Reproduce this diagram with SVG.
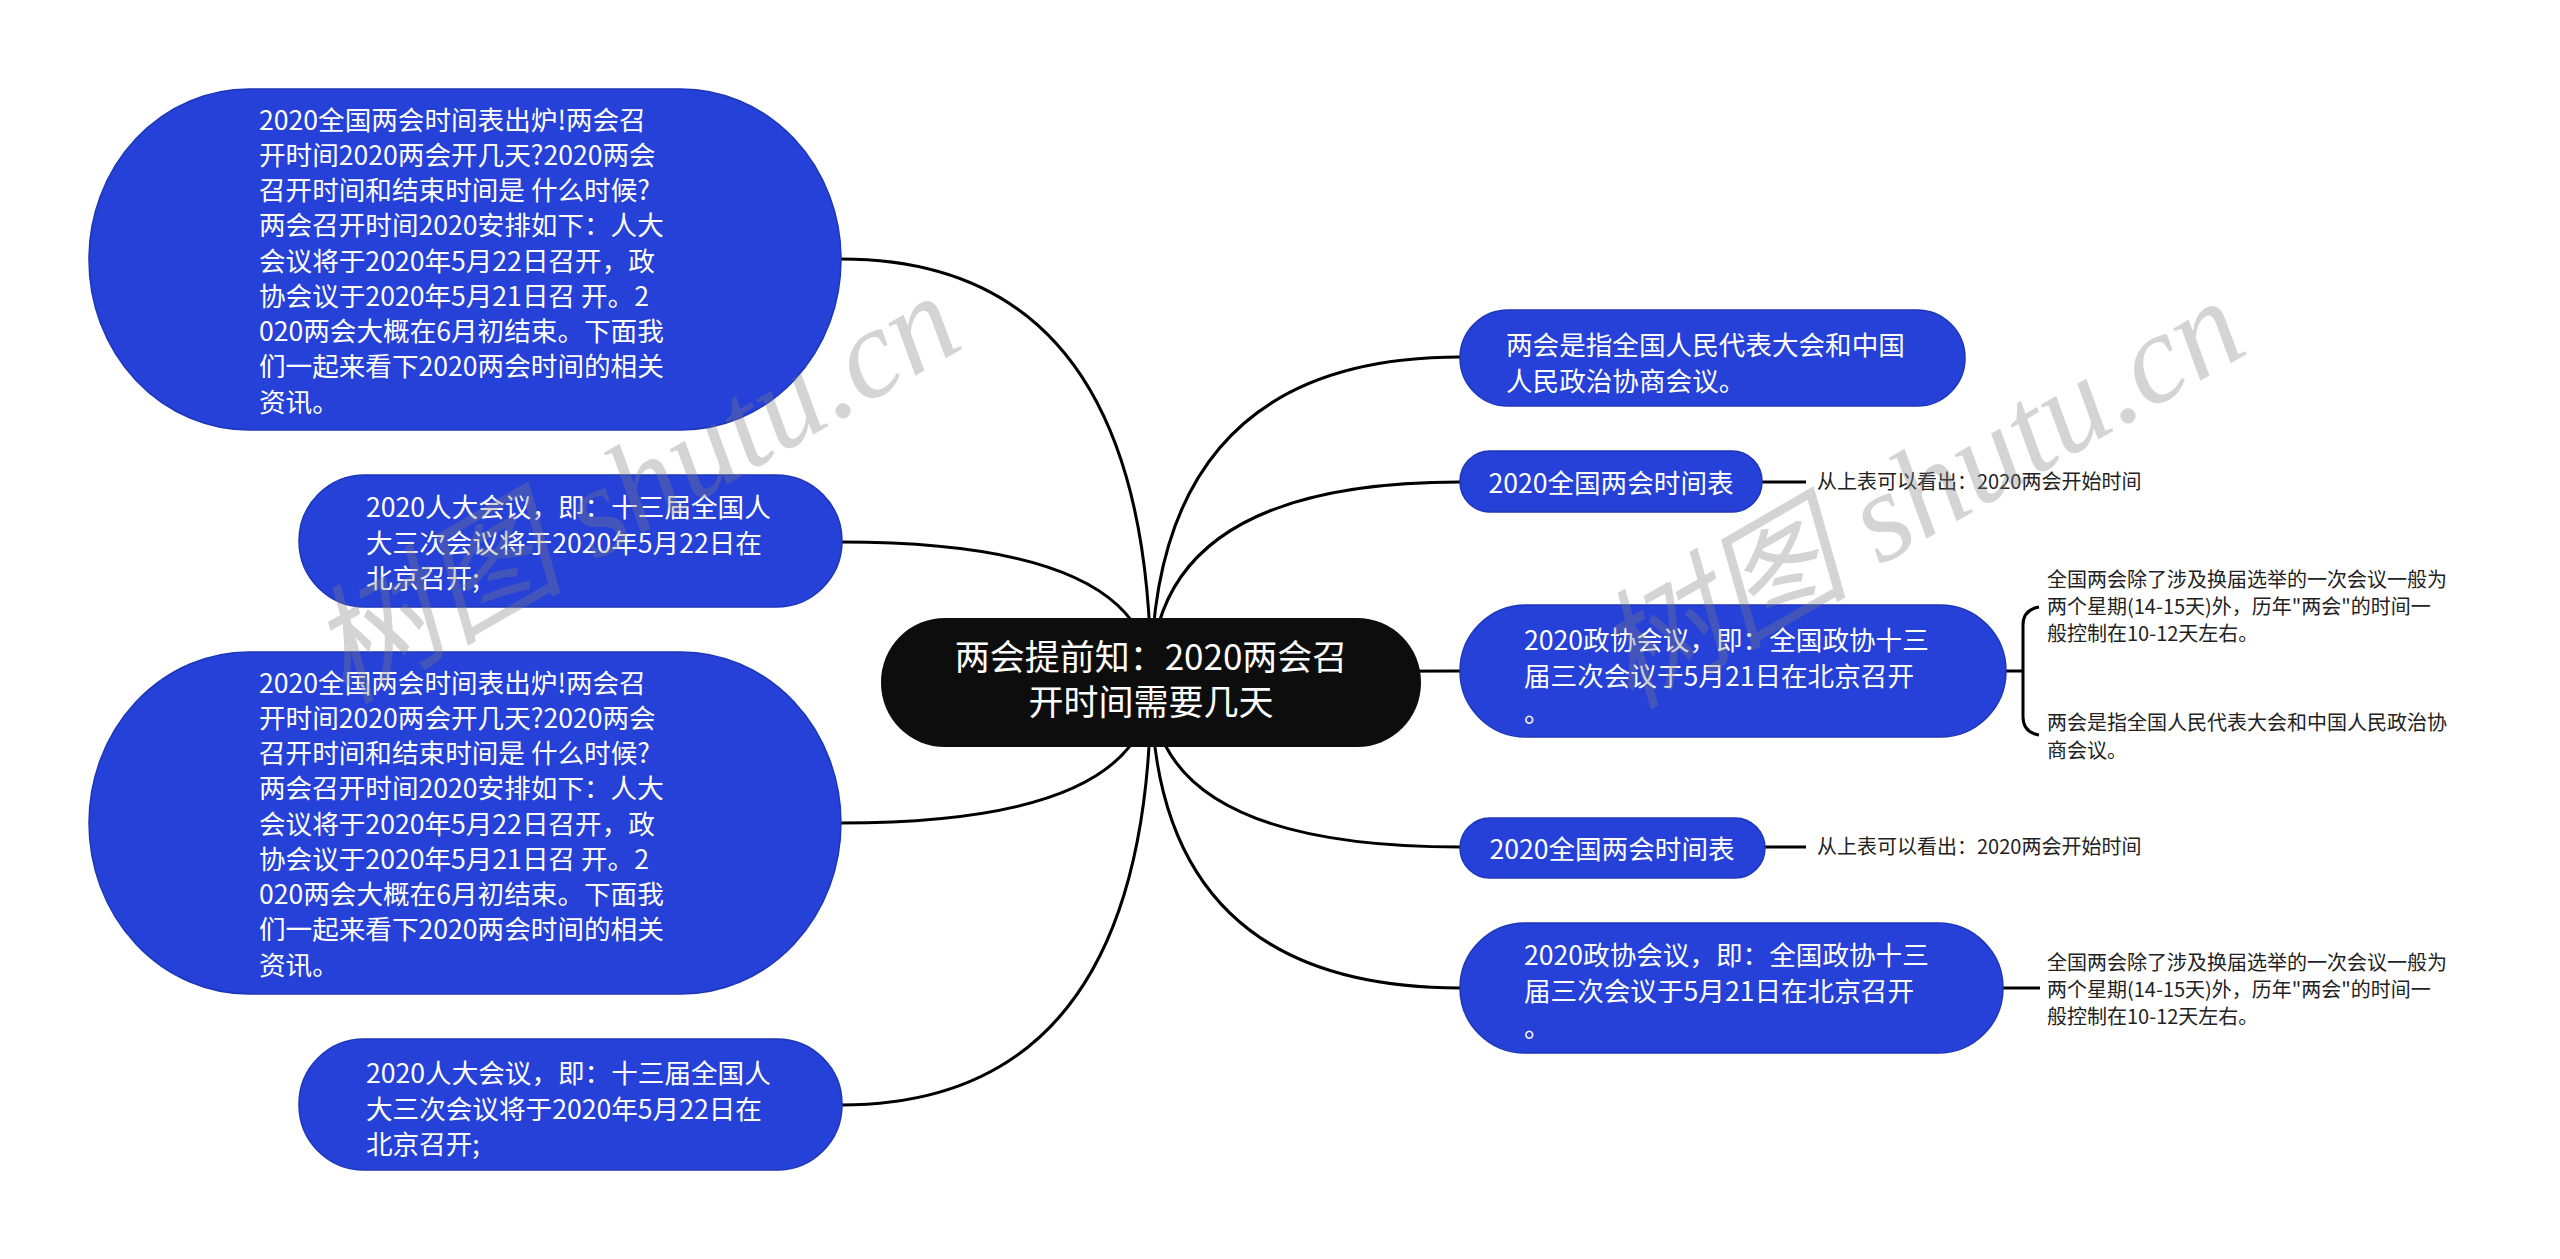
<svg xmlns="http://www.w3.org/2000/svg" width="2560" height="1259" viewBox="0 0 2560 1259">
<style>
.blue{fill:#2541d8;stroke:#1c36b8;stroke-width:1.5}
.root{fill:#0d0d0d}
.t{font-family:"Noto Sans CJK SC","Liberation Sans",sans-serif;font-size:26.6px;fill:#ffffff}
.tc{font-family:"Noto Sans CJK SC","Liberation Sans",sans-serif;font-size:35px;fill:#ffffff;text-anchor:middle}
.s{font-family:"Noto Sans CJK SC","Liberation Sans",sans-serif;font-size:20px;fill:#222222}
.c{fill:none;stroke:#000000;stroke-width:3}
.wm{font-family:"Liberation Serif","Noto Sans CJK SC",serif;font-style:italic;font-size:128px;fill:#808080;opacity:0.33}
</style>
<rect width="2560" height="1259" fill="#ffffff"/>
<g id="connectors">
<path class="c" d="M1151 682 Q1151 259 841 259"/>
<path class="c" d="M1151 682 Q1151 542 841 542"/>
<path class="c" d="M1151 682 Q1151 823 841 823"/>
<path class="c" d="M1151 682 Q1151 1105 841 1105"/>
<path class="c" d="M1151 682 Q1151 357 1460 357"/>
<path class="c" d="M1151 682 Q1151 482 1460 482"/>
<path class="c" d="M1151 682 Q1151 671 1460 671"/>
<path class="c" d="M1151 682 Q1151 847 1460 847"/>
<path class="c" d="M1151 682 Q1151 988 1460 988"/>
<path class="c" d="M1762 482 L1806 482"/>
<path class="c" d="M1765 847 L1806 847"/>
<path class="c" d="M2006 671 L2023 671"/>
<path class="c" d="M2039 607 Q2023 610 2023 625 L2023 717 Q2023 732 2039 735"/>
<path class="c" d="M2003 988 L2040 988"/>
</g>
<g id="n-left1">
<rect class="blue" x="89" y="89" width="752" height="341" rx="160" ry="170"/>
<text class="t" x="259" y="129.6"><tspan x="259">2020全国两会时间表出炉!两会召</tspan><tspan x="259" dy="35.25">开时间2020两会开几天?2020两会</tspan><tspan x="259" dy="35.25">召开时间和结束时间是 什么时候?</tspan><tspan x="259" dy="35.25">两会召开时间2020安排如下：人大</tspan><tspan x="259" dy="35.25">会议将于2020年5月22日召开，政</tspan><tspan x="259" dy="35.25">协会议于2020年5月21日召 开。2</tspan><tspan x="259" dy="35.25">020两会大概在6月初结束。下面我</tspan><tspan x="259" dy="35.25">们一起来看下2020两会时间的相关</tspan><tspan x="259" dy="35.25">资讯。</tspan></text>
</g>
<g id="n-left2">
<rect class="blue" x="299" y="475" width="543" height="132" rx="66"/>
<text class="t" x="366" y="517"><tspan x="366">2020人大会议，即：十三届全国人</tspan><tspan x="366" dy="35.5">大三次会议将于2020年5月22日在</tspan><tspan x="366" dy="35.5">北京召开;</tspan></text>
</g>
<g id="n-left3">
<rect class="blue" x="89" y="652" width="752" height="342" rx="160" ry="171"/>
<text class="t" x="259" y="692.6"><tspan x="259">2020全国两会时间表出炉!两会召</tspan><tspan x="259" dy="35.25">开时间2020两会开几天?2020两会</tspan><tspan x="259" dy="35.25">召开时间和结束时间是 什么时候?</tspan><tspan x="259" dy="35.25">两会召开时间2020安排如下：人大</tspan><tspan x="259" dy="35.25">会议将于2020年5月22日召开，政</tspan><tspan x="259" dy="35.25">协会议于2020年5月21日召 开。2</tspan><tspan x="259" dy="35.25">020两会大概在6月初结束。下面我</tspan><tspan x="259" dy="35.25">们一起来看下2020两会时间的相关</tspan><tspan x="259" dy="35.25">资讯。</tspan></text>
</g>
<g id="n-left4">
<rect class="blue" x="299" y="1039" width="543" height="131" rx="65"/>
<text class="t" x="366" y="1083"><tspan x="366">2020人大会议，即：十三届全国人</tspan><tspan x="366" dy="35.5">大三次会议将于2020年5月22日在</tspan><tspan x="366" dy="35.5">北京召开;</tspan></text>
</g>
<g id="n-root">
<rect class="root" x="881" y="618" width="540" height="129" rx="64"/>
<text class="tc" x="1151" y="670"><tspan x="1151">两会提前知：2020两会召</tspan><tspan x="1151" dy="45">开时间需要几天</tspan></text>
</g>
<g id="n-right1">
<rect class="blue" x="1460" y="310" width="505" height="96" rx="48"/>
<text class="t" x="1506" y="355"><tspan x="1506">两会是指全国人民代表大会和中国</tspan><tspan x="1506" dy="35.5">人民政治协商会议。</tspan></text>
</g>
<g id="n-right2">
<rect class="blue" x="1460" y="451" width="302" height="61" rx="30"/>
<text class="t" x="1611" y="493" text-anchor="middle">2020全国两会时间表</text>
</g>
<g id="n-right2-leaf">
<text class="s" x="1817" y="489">从上表可以看出：2020两会开始时间</text>
</g>
<g id="n-right3">
<rect class="blue" x="1460" y="605" width="546" height="132" rx="66"/>
<text class="t" x="1524" y="650"><tspan x="1524">2020政协会议，即：全国政协十三</tspan><tspan x="1524" dy="36">届三次会议于5月21日在北京召开</tspan><tspan x="1524" dy="36">。</tspan></text>
</g>
<g id="n-right3-leaf1">
<text class="s" x="2047" y="587"><tspan x="2047">全国两会除了涉及换届选举的一次会议一般为</tspan><tspan x="2047" dy="27">两个星期(14-15天)外，历年"两会"的时间一</tspan><tspan x="2047" dy="27">般控制在10-12天左右。</tspan></text>
</g>
<g id="n-right3-leaf2">
<text class="s" x="2047" y="730"><tspan x="2047">两会是指全国人民代表大会和中国人民政治协</tspan><tspan x="2047" dy="28">商会议。</tspan></text>
</g>
<g id="n-right4">
<rect class="blue" x="1460" y="818" width="305" height="60" rx="30"/>
<text class="t" x="1612" y="859" text-anchor="middle">2020全国两会时间表</text>
</g>
<g id="n-right4-leaf">
<text class="s" x="1817" y="854">从上表可以看出：2020两会开始时间</text>
</g>
<g id="n-right5">
<rect class="blue" x="1460" y="923" width="543" height="130" rx="65"/>
<text class="t" x="1524" y="965"><tspan x="1524">2020政协会议，即：全国政协十三</tspan><tspan x="1524" dy="36">届三次会议于5月21日在北京召开</tspan><tspan x="1524" dy="36">。</tspan></text>
</g>
<g id="n-right5-leaf">
<text class="s" x="2047" y="970"><tspan x="2047">全国两会除了涉及换届选举的一次会议一般为</tspan><tspan x="2047" dy="27">两个星期(14-15天)外，历年"两会"的时间一</tspan><tspan x="2047" dy="27">般控制在10-12天左右。</tspan></text>
</g>
<g id="watermark">
<text class="wm" x="345" y="705" transform="rotate(-30 345 705)">树图 shutu.cn</text>
<text class="wm" x="1630" y="710" transform="rotate(-30 1630 710)">树图 shutu.cn</text>
</g>
</svg>
